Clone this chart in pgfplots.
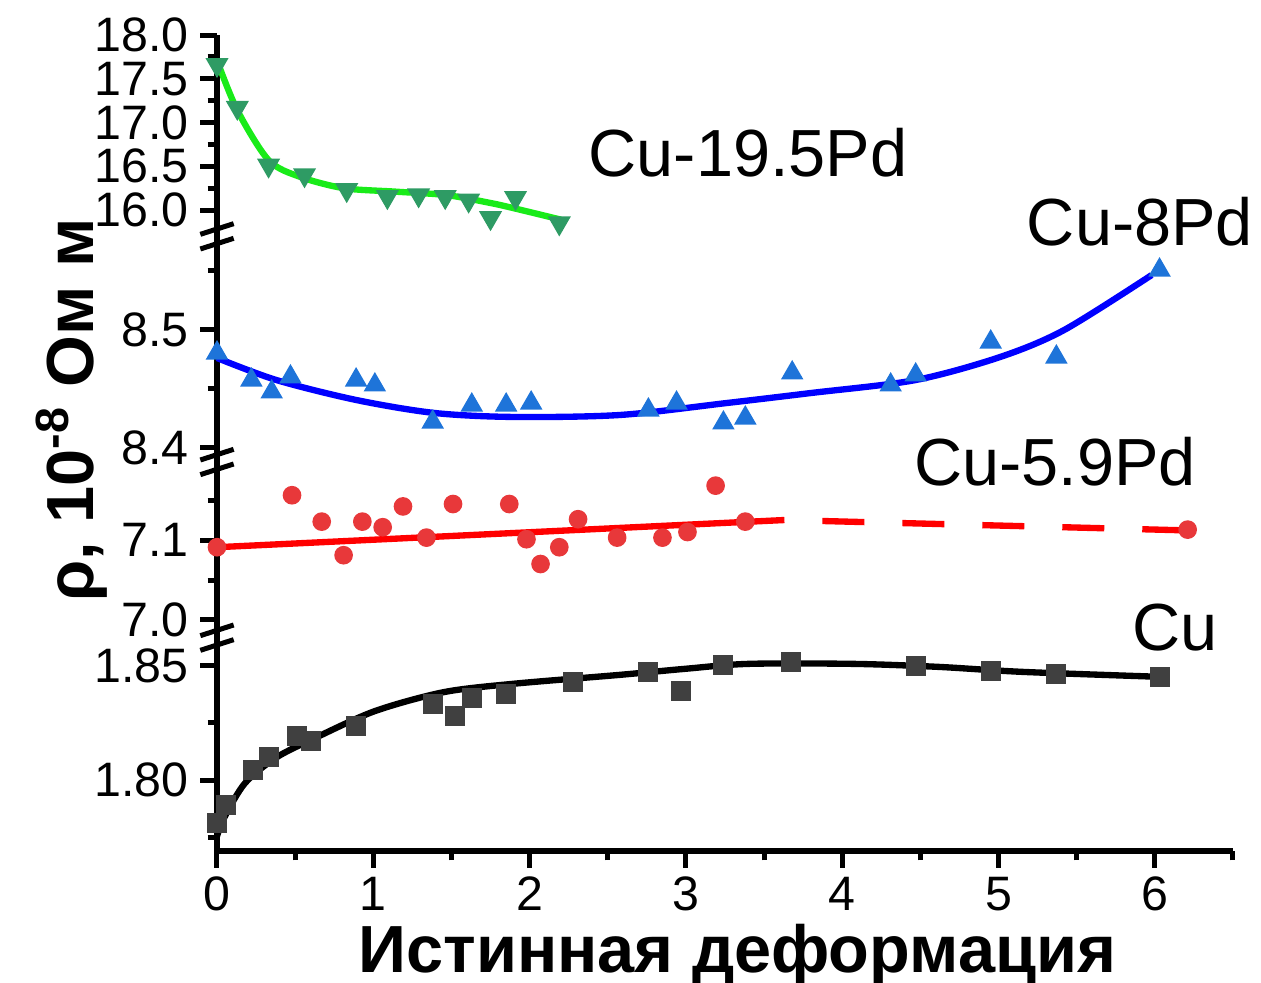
\documentclass[border=0pt]{standalone}
\usepackage{pgfplots}
\pgfplotsset{compat=1.18}
\usepackage{fontspec}
\setmainfont{Liberation Sans}

\definecolor{CuMark}{RGB}{64,64,64}
\definecolor{RedMark}{RGB}{232,56,58}
\definecolor{RedLine}{RGB}{255,0,0}
\definecolor{BlueMark}{RGB}{30,116,217}
\definecolor{BlueLine}{RGB}{0,0,255}
\definecolor{GreenMark}{RGB}{46,155,100}
\definecolor{GreenLine}{RGB}{25,235,25}

\pgfplotsset{
  panel/.style={
    scale only axis, width=304.8pt,
    xmin=0, xmax=6.5, enlargelimits=false, clip=false,
    axis y line*=left,
    axis line style={-, line width=1.7pt},
    tick align=outside, major tick length=5pt, minor tick length=2.8pt,
    tick style={line width=1.5pt, black},
    ticklabel style={font=\fontsize{14.5}{15}\selectfont},
    /pgf/number format/assume math mode=true,
    yticklabel style={/pgf/number format/fixed, /pgf/number format/fixed zerofill,
      /pgf/number format/precision=1},
  },
  upper/.style={axis x line=none},
  fitline/.style={line width=1.9pt, smooth, no markers},
}

\begin{document}
\begin{tikzpicture}
\path[use as bounding box] (-65.1pt,-39.6pt) rectangle (313.2pt,255.3pt);

% Cu (bottom panel, carries the x axis)
\begin{axis}[panel, at={(0pt,0pt)}, anchor=south west, height=59.7pt,
    ymin=1.7689, ymax=1.8561,
    axis x line*=bottom,
    xtick={0,1,2,3,4,5,6}, minor xtick={0.5,1.5,2.5,3.5,4.5,5.5,6.5},
    ytick={1.80,1.85}, minor ytick={1.775,1.825},
    yticklabel style={/pgf/number format/precision=2},
    xticklabel style={yshift=0.8pt},
    xlabel={Истинная деформация},
    xlabel style={at={(axis description cs:0.512,0)}, anchor=center, yshift=-31.3pt,
      font=\fontsize{20}{22}\selectfont\bfseries},
  ]
  \addplot[only marks, mark=square*, mark size=2.8pt, color=CuMark] coordinates {
    (0,1.781) (0.06,1.7892) (0.23,1.8043) (0.33,1.8099) (0.51,1.8194) (0.60,1.8172)
    (0.89,1.8237) (1.38,1.8332) (1.52,1.828) (1.63,1.8358) (1.85,1.8379) (2.28,1.8431)
    (2.76,1.8474) (2.97,1.8392) (3.24,1.8504) (3.67,1.8517) (4.47,1.85) (4.95,1.8478)
    (5.37,1.8466) (6.03,1.8453)
  };
  \addplot[fitline, color=black] coordinates {
    (0,1.7754) (0.05,1.784) (0.18,1.7987) (0.38,1.8099) (0.63,1.8185) (1.01,1.8302)
    (1.45,1.8385) (1.90,1.8422) (2.58,1.8461) (2.99,1.8487) (3.40,1.8509) (4.07,1.8509)
    (4.61,1.8496) (5.15,1.8474) (6.0,1.8453)
  };
\end{axis}

% Cu-5.9Pd
\begin{axis}[panel, upper, at={(0pt,68.7pt)}, anchor=south west, height=44.1pt,
    ymin=6.9975, ymax=7.1813,
    ytick={7.0,7.1}, minor ytick={7.05,7.15},
  ]
  \addplot[only marks, mark=*, mark size=2.6pt, color=RedMark] coordinates {
    (0,7.091) (0.48,7.156) (0.67,7.123) (0.81,7.081) (0.93,7.123) (1.06,7.116)
    (1.19,7.142) (1.34,7.103) (1.51,7.145) (1.87,7.145) (1.98,7.101) (2.07,7.070)
    (2.19,7.091) (2.31,7.126) (2.56,7.103) (2.85,7.103) (3.01,7.110) (3.19,7.168)
    (3.38,7.123) (6.21,7.113)
  };
  \addplot[line width=1.9pt, color=RedLine, no markers] coordinates {
    (0,7.091) (3.63,7.125)
  };
  \addplot[line width=1.9pt, color=RedLine, no markers,
      dash pattern=on 12.6pt off 11.4pt, dash phase=12.6pt] coordinates {
    (3.63,7.125) (6.21,7.112)
  };
\end{axis}

% Cu-8Pd
\begin{axis}[panel, upper, at={(0pt,120.9pt)}, anchor=south west, height=58.8pt,
    ymin=8.4, ymax=8.5661,
    ytick={8.4,8.5}, minor ytick={8.45,8.55},
  ]
  \addplot[only marks, mark=triangle*, mark size=3.5pt, color=BlueMark] coordinates {
    (0,8.4805) (0.22,8.4576) (0.35,8.4475) (0.47,8.4602) (0.89,8.4576) (1.01,8.4534)
    (1.38,8.422) (1.63,8.4364) (1.85,8.4364) (2.01,8.4381) (2.76,8.4322) (2.94,8.4381)
    (3.24,8.4212) (3.38,8.4254) (3.68,8.4636) (4.31,8.4534) (4.47,8.4619) (4.95,8.4898)
    (5.37,8.4771) (6.03,8.5508)
  };
  \addplot[fitline, color=BlueLine] coordinates {
    (0,8.4763) (0.38,8.4576) (0.89,8.4407) (1.39,8.4297) (1.90,8.4263) (2.58,8.428)
    (3.26,8.4381) (3.80,8.4466) (4.47,8.4576) (5.01,8.4771) (5.42,8.5) (5.98,8.5466)
  };
\end{axis}

% Cu-19.5Pd
\begin{axis}[panel, upper, at={(0pt,188.7pt)}, anchor=south west, height=56.1pt,
    ymin=15.863, ymax=18.0,
    ytick={16.0,16.5,17.0,17.5,18.0}, minor ytick={16.25,16.75,17.25,17.75},
  ]
  \addplot[only marks, mark=triangle*, mark size=3.6pt, color=GreenMark,
      mark options={rotate=180}] coordinates {
    (0,17.66) (0.13,17.17) (0.33,16.51) (0.56,16.40) (0.83,16.23) (1.09,16.15)
    (1.29,16.17) (1.46,16.15) (1.61,16.11) (1.75,15.91) (1.91,16.14) (2.19,15.85)
  };
  \addplot[fitline, color=GreenLine] coordinates {
    (0,17.71) (0.13,17.14) (0.33,16.57) (0.53,16.38) (0.81,16.25) (1.14,16.21)
    (1.47,16.17) (1.75,16.08) (1.90,16.02) (2.20,15.89)
  };
\end{axis}

% continuous y axis with break marks
\draw[line width=1.7pt] (0pt,59pt) -- (0pt,69.5pt);
\draw[line width=1.7pt] (0pt,112pt) -- (0pt,121.5pt);
\draw[line width=1.7pt] (0pt,179pt) -- (0pt,189.5pt);
\foreach \yb in {61.8,66.2,114.5,118.9,182.2,186.6}
  \draw[line width=1.5pt] (-5pt,\yb pt-1.6pt) -- (5pt,\yb pt+1.6pt);

\node[font=\fontsize{20}{22}\selectfont] at (159.3pt,209.4pt) {Cu-19.5Pd};
\node[font=\fontsize{20}{22}\selectfont] at (276.9pt,188.7pt) {Cu-8Pd};
\node[font=\fontsize{20}{22}\selectfont] at (251.4pt,116.7pt) {Cu-5.9Pd};
\node[font=\fontsize{20}{22}\selectfont] at (287.4pt,66.9pt) {Cu};

\node[rotate=90, font=\fontsize{20}{22}\selectfont\bfseries] at (-43.5pt,132.3pt)
  {ρ, 10\textsuperscript{-8} Ом м};
\end{tikzpicture}
\end{document}
